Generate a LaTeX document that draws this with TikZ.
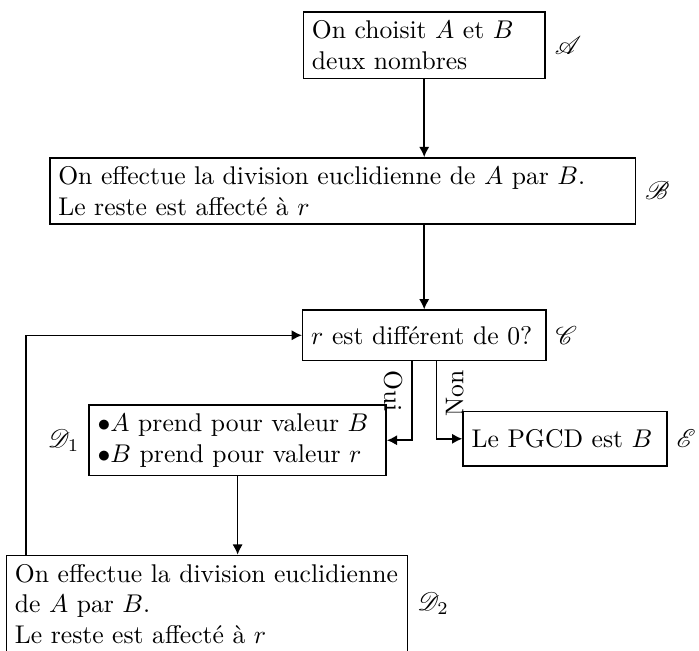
\documentclass[tikz,border=0pt]{standalone}
\usepackage{mathrsfs}
\usetikzlibrary{positioning,arrows.meta}

\tikzset{bloc/.style={draw, semithick, align=left}}
\tikzset{fleche/.style={semithick, -{Latex[length=4pt,width=4pt]}}}

\begin{document}
\begin{tikzpicture}
			\useasboundingbox (0,0) rectangle (9.59,-8.92);
			% Define blocs
			\node[bloc, text width=3.08cm] (A) at (5.82,-0.62) {On choisit $A$ et $B$\\ deux nombres};
			\node[bloc, text width=7.80cm] (B) at (4.70,-2.62) {On effectue la division euclidienne de $A$ par $B$.\\ Le reste est affect\'e \`a $r$};
			\node[bloc, text width=3.10cm, minimum height=0.69cm] (C) at (5.82,-4.60) {$r$ est diff\'erent de 0?};
			\node[bloc, text width=3.84cm] (D1) at (3.26,-6.04) {$\bullet A$ prend pour valeur $B$\\ $\bullet B$ prend pour valeur $r$};
			\node[bloc, text width=2.56cm, minimum height=0.75cm] (E) at (7.75,-6.02) {Le PGCD est $B$};
			\node[bloc, text width=5.27cm, anchor=north] (D2) at (2.84,-7.61) {On effectue la division euclidienne\\ de $A$ par $B$.\\ Le reste est affect\'e \`a $r$};
			
			% Names of the blocs
			\node[right=0pt of A] (nA) {$\mathscr{A}$};
			\node[right=0pt of B] (nB) {$\mathscr{B}$};
			\node[right=0pt of C] (nC) {$\mathscr{C}$};
			\node[left=0pt of D1] (nD1) {$\mathscr{D}_1$};
			\node[right=0pt of E] (nE) {$\mathscr{E}$};
			\node[right=0pt of D2] (nD2) {$\mathscr{D}_2$};
			
			% Draw arrows
			\draw[fleche] (A.south) -- (A.south |- B.north);
			\draw[fleche] (B.south -| C.north) -- (C.north);
			\draw[fleche] ([xshift=-0.17cm]C.south) |- node[pos=0, rotate=-90, anchor=north west] (oui) {Oui} (D1.east);
			\draw[fleche] ([xshift=0.17cm]C.south) |- node[pos=0, rotate=90, anchor=north east] (non) {Non} (E.west);
			\draw[fleche] (D1.south) -- (D1.south |- D2.north);
			\draw[fleche] ([xshift=0.28cm]D2.north west) |- (C.west);
		\end{tikzpicture}
\end{document}
